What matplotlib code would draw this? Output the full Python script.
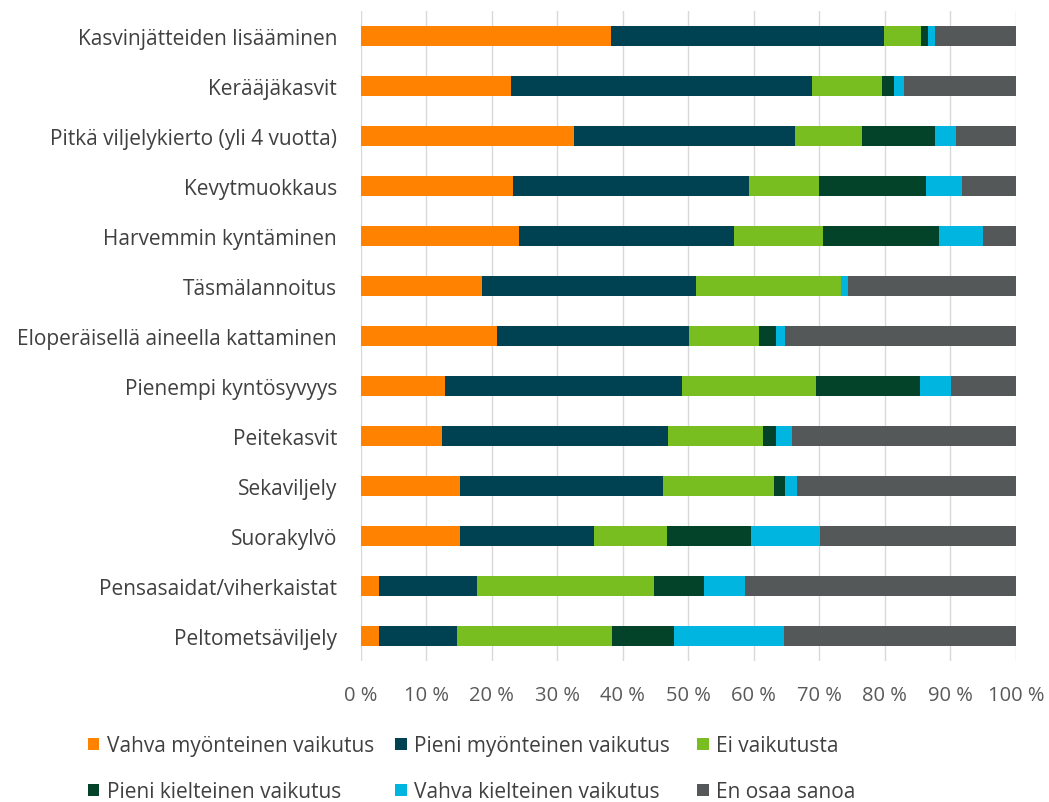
import matplotlib.pyplot as plt
import numpy as np

plt.rcParams['font.family'] = ['Open Sans', 'DejaVu Sans']

categories = ["Kasvinjätteiden lisääminen",
              "Kerääjäkasvit",
              "Pitkä viljelykierto (yli 4 vuotta)",
              "Kevytmuokkaus",
              "Harvemmin kyntäminen",
              "Täsmälannoitus",
              "Eloperäisellä aineella kattaminen",
              "Pienempi kyntösyvyys",
              "Peitekasvit",
              "Sekaviljely",
              "Suorakylvö",
              "Pensasaidat/viherkaistat",
              "Peltometsäviljely"]

series_names = ["Vahva myönteinen vaikutus",
                "Pieni myönteinen vaikutus",
                "Ei vaikutusta",
                "Pieni kielteinen vaikutus",
                "Vahva kielteinen vaikutus",
                "En osaa sanoa"]

vahva_myont = [38.2, 22.9, 32.5, 23.2, 24.1, 18.5, 20.8, 12.9, 12.4, 15.2, 15.2, 2.8, 2.8]
pieni_myont = [41.7, 45.9, 33.7, 36.0, 32.9, 32.6, 29.3, 36.1, 34.5, 30.9, 20.4, 14.9, 11.9]
ei_vaik = [5.6, 10.7, 10.3, 10.8, 13.5, 22.2, 10.7, 20.5, 14.5, 17.0, 11.2, 27.0, 23.7]
pieni_kielt = [1.1, 1.9, 11.2, 16.2, 17.8, 0.0, 2.5, 15.8, 2.0, 1.6, 12.7, 7.7, 9.4]
vahva_kielt = [1.1, 1.5, 3.1, 5.6, 6.6, 1.0, 1.4, 4.8, 2.4, 1.9, 10.6, 6.3, 16.8]
en_osaa = [12.3, 17.1, 9.2, 8.2, 5.1, 25.7, 35.3, 9.9, 34.2, 33.4, 29.9, 41.3, 35.4]

colors = ['#FF8300', '#004152', '#78BE21', '#03432A', '#00B6E1', '#545859']

fig = plt.figure(figsize=(10.49, 8.03), dpi=100)
ax = fig.add_axes([0.344, 0.175, 0.6245, 0.8095])

y = np.arange(len(categories))
left = np.zeros(len(categories))
bars = []
for vals, name, col in zip([vahva_myont, pieni_myont, ei_vaik, pieni_kielt, vahva_kielt, en_osaa],
                           series_names, colors):
    b = ax.barh(y, vals, left=left, height=0.4, color=col, label=name, zorder=3)
    bars.append(b)
    left += np.array(vals)

ax.set_xlim(0, 100)
ax.set_ylim(len(categories) - 0.5, -0.5)
ax.set_yticks(y)
ax.set_yticklabels(categories, fontsize=15, color='#404040')
ax.set_xticks(np.arange(0, 101, 10))
ax.set_xticklabels([f"{v} %" for v in range(0, 101, 10)], fontsize=14.5, color='#595959')
ax.tick_params(length=0)
ax.tick_params(axis='x', pad=17)
ax.tick_params(axis='y', pad=17)
ax.grid(axis='x', color='#D9D9D9', linewidth=1, zorder=0)
for s in ax.spines.values():
    s.set_visible(False)

# legend: three columns placed where the reference has them
col_x = [0.0839, 0.3766, 0.6645]
for c in range(3):
    idx = [c, c + 3]
    fig.legend([bars[i] for i in idx], [series_names[i] for i in idx],
               loc='center left', bbox_to_anchor=(col_x[c], 0.0411),
               frameon=False, fontsize=15, labelcolor='#404040',
               borderpad=0, borderaxespad=0,
               handlelength=0.55, handleheight=0.55, handletextpad=0.35,
               labelspacing=1.2)

fig.savefig('out.png')
